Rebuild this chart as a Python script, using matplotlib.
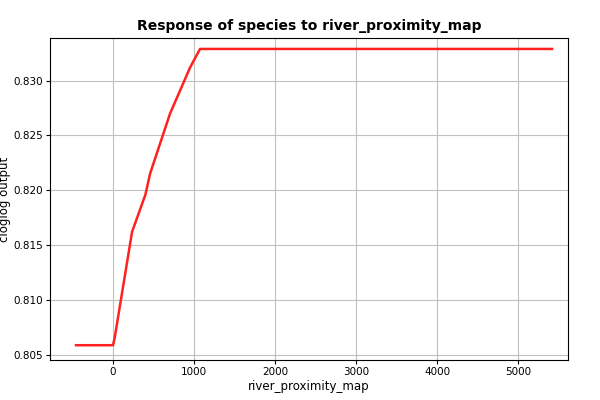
import matplotlib
matplotlib.use("Agg")
import matplotlib.pyplot as plt

x_vals = [-457, 0, 20, 235, 400, 457, 704, 951, 1074, 5420]
y_vals = [0.80585, 0.80585, 0.8065, 0.8162, 0.8196, 0.8215, 0.8270, 0.8312, 0.8329, 0.8329]

fig = plt.figure(figsize=(6, 4), dpi=100)
ax = fig.add_axes([50/600, 40/400, 518/600, 322/400])
ax.plot(x_vals, y_vals, color="#ff2020", lw=1.8)
ax.set_xlim(-778, 5617)
ax.set_ylim(0.8045, 0.8339)
ax.set_xticks([0, 1000, 2000, 3000, 4000, 5000])
ax.set_yticks([0.805, 0.810, 0.815, 0.820, 0.825, 0.830])
ax.set_yticklabels(["0.805", "0.810", "0.815", "0.820", "0.825", "0.830"])
ax.grid(True, color="#c0c0c0", lw=0.8)
ax.tick_params(labelsize=7.5, length=3, pad=2)
ax.set_xlabel("river_proximity_map", fontsize=8.5, labelpad=2)
ax.set_ylabel("cloglog output", fontsize=8.5, labelpad=2)
ax.set_title("Response of species to river_proximity_map", fontsize=10, fontweight="bold")
fig.savefig("out.png", dpi=100)
